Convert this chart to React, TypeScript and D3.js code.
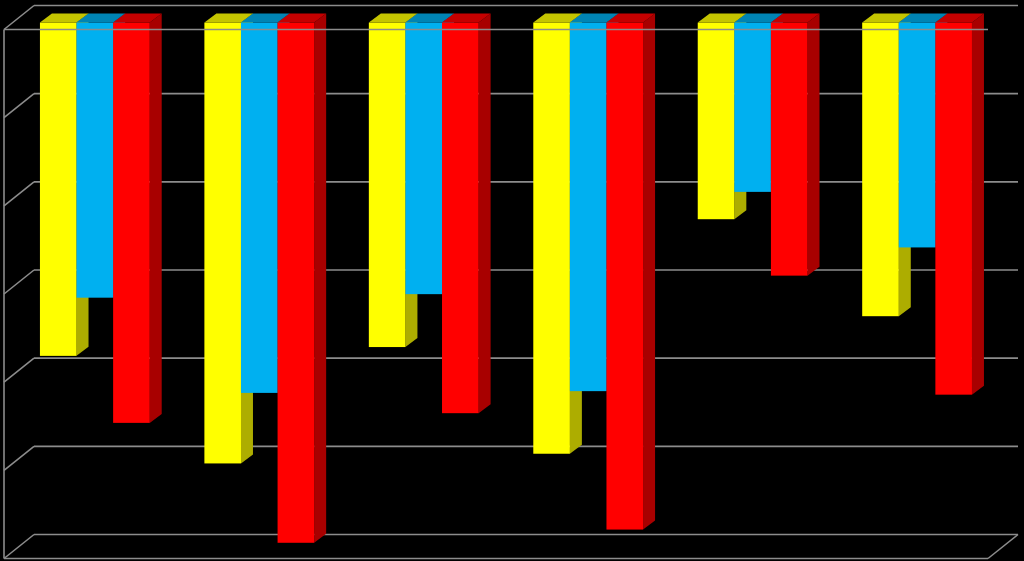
import React from 'react';
import * as d3 from 'd3';

const categories = ['A', 'B', 'C', 'D', 'E', 'F'];
const seriesNames = ['yellow', 'blue', 'red'];
const yellowValues = [37.8, 50, 36.8, 48.9, 22.3, 33.3];
const blueValues = [31.2, 42, 30.8, 41.8, 19.2, 25.5];
const redValues = [45.4, 59, 44.3, 57.5, 28.7, 42.2];
const seriesValues = [yellowValues, blueValues, redValues];
const tickValues = [0, 10, 20, 30, 40, 50, 60];

const faceColors = ['#ffff00', '#00b0f0', '#ff0000'];
const topColors = ['#c4c400', '#0084b4', '#c40000'];
const sideColors = ['#adad00', '#0074a0', '#a80000'];
const lineColor = '#8c8c8c';

const width = 1024;
const height = 561;

function App() {
  // front plane of the box, the back wall sits up and to the right of it
  const frontLeft = 4;
  const frontRight = 988;
  const frontTop = 29.5;
  const wallDx = 30;
  const wallDy = 24;
  // bars stand in the middle of the box
  const barTop = 22.6;
  const barDx = 12;
  const barDy = 9;

  const y = d3.scaleLinear().domain([0, 60]).range([0, 529]);
  const x0 = d3
    .scaleBand()
    .domain(categories)
    .range([12.6, 999.3])
    .paddingInner(0.3325)
    .paddingOuter(0.16625);
  const x1 = d3.scaleBand().domain(seriesNames).range([0, x0.bandwidth()]);
  const outline = d3.line();

  const line = (x1: number, y1: number, x2: number, y2: number, key: string) => (
    <line key={key} x1={x1} y1={y1} x2={x2} y2={y2} stroke={lineColor} strokeWidth={1.6} />
  );

  return (
    <svg
      width={width}
      height={height}
      style={{ position: 'absolute', left: 0, top: 0, background: '#000' }}
    >
      <g className="grid">
        {tickValues.map((t) => {
          const fy = frontTop + y(t);
          return (
            <g key={t}>
              {line(frontLeft, fy, frontLeft + wallDx, fy - wallDy, 'slant')}
              {line(frontLeft + wallDx, fy - wallDy, frontRight + wallDx, fy - wallDy, 'back')}
            </g>
          );
        })}
        {line(frontLeft, frontTop, frontLeft, frontTop + y(60), 'left')}
        {line(frontLeft, frontTop + y(60), frontRight, frontTop + y(60), 'bottom')}
        {line(frontRight, frontTop + y(60), frontRight + wallDx, frontTop + y(60) - wallDy, 'corner')}
      </g>
      <g className="plot-area">
        {categories.map((c, i) =>
          seriesNames.map((s, j) => {
            const left = (x0(c) as number) + (x1(s) as number);
            const right = left + x1.bandwidth();
            const bottom = barTop + y(seriesValues[j][i]);
            return (
              <g key={c + s}>
                <path
                  fill={sideColors[j]}
                  d={
                    outline([
                      [right, barTop],
                      [right + barDx, barTop - barDy],
                      [right + barDx, bottom - barDy],
                      [right, bottom],
                    ]) + 'Z'
                  }
                />
                <path
                  fill={topColors[j]}
                  d={
                    outline([
                      [left, barTop],
                      [left + barDx, barTop - barDy],
                      [right + barDx, barTop - barDy],
                      [right, barTop],
                    ]) + 'Z'
                  }
                />
                <rect x={left} y={barTop} width={x1.bandwidth()} height={y(seriesValues[j][i])} fill={faceColors[j]} />
              </g>
            );
          })
        )}
      </g>
      {line(frontLeft, frontTop, frontRight, frontTop, 'front-top')}
    </svg>
  );
}

export default App;
